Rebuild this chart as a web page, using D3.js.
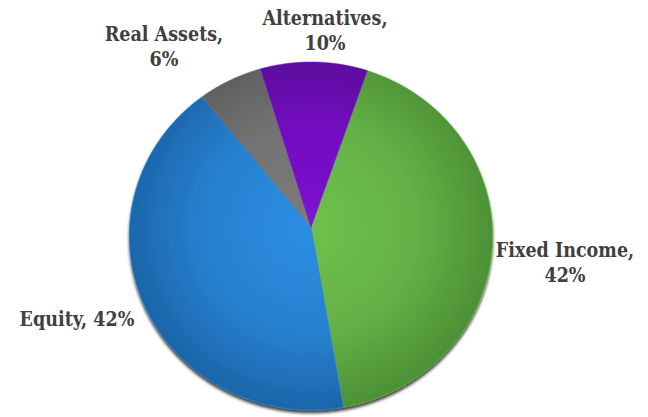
<!DOCTYPE html>
<html>
<head>
<meta charset="utf-8">
<script src="https://cdn.jsdelivr.net/npm/d3@7"></script>
<style>
  html, body { margin: 0; padding: 0; background: #fff; }
  svg { display: block; }
  .lbl { font-family: "DejaVu Serif Condensed", "DejaVu Serif", serif; font-stretch: condensed; font-weight: bold; font-size: 19.5px; fill: #404040; }
</style>
</head>
<body>
<svg id="chart" width="648" height="417"></svg>
<script>
// Portfolio allocation, clockwise from the first slice
const categories = ["Fixed Income", "Equity", "Real Assets", "Alternatives"];
const values = [42, 42, 6, 10];
const labelLines = [["Fixed Income,", "42%"], ["Equity, 42%"], ["Real Assets,", "6%"], ["Alternatives,", "10%"]];
const centerColors = ["#6fc14d", "#2b8ee2", "#7c7c7c", "#7e12d2"];
const rimColors = ["#4a8d34", "#1c62a6", "#5a5a5a", "#520a90"];

const W = 648, H = 417;
const cx = 311, cy = 227, R = 181.5;
const tilt = 17 * Math.PI / 180, dist = 1025;
const cosT = Math.cos(tilt), sinT = Math.sin(tilt);

// tilted disc: top edge recedes, bottom edge comes forward
function project(angle, r) {
  const x = r * Math.sin(angle), y = -r * Math.cos(angle);
  const f = dist / (dist - y * sinT);
  return [cx + x * f, cy + y * cosT * f];
}

const svg = d3.select("#chart");
const defs = svg.append("defs");

const shadow = defs.append("filter").attr("id", "pieShadow")
  .attr("x", "-10%").attr("y", "-10%").attr("width", "120%").attr("height", "125%");
shadow.append("feDropShadow").attr("dx", 0).attr("dy", 3).attr("stdDeviation", 1.8)
  .attr("flood-color", "#000").attr("flood-opacity", 0.75);

categories.forEach((c, i) => {
  const g = defs.append("radialGradient").attr("id", "grad" + i)
    .attr("gradientUnits", "userSpaceOnUse")
    .attr("cx", cx).attr("cy", cy).attr("r", R + 10);
  g.append("stop").attr("offset", "0%").attr("stop-color", centerColors[i]);
  g.append("stop").attr("offset", "55%").attr("stop-color", d3.interpolateRgb(centerColors[i], rimColors[i])(0.3));
  g.append("stop").attr("offset", "100%").attr("stop-color", rimColors[i]);
});

const startDeg = 19;
const pie = d3.pie().sort(null).value(d => d)
  .startAngle(startDeg * Math.PI / 180)
  .endAngle((startDeg + 360) * Math.PI / 180);
const arcs = pie(values);

const line = d3.line().curve(d3.curveLinearClosed);
function slicePath(a) {
  const pts = [[cx, cy]];
  const n = Math.max(8, Math.ceil((a.endAngle - a.startAngle) / 0.01));
  for (let k = 0; k <= n; k++) {
    const t = a.startAngle + (a.endAngle - a.startAngle) * k / n;
    pts.push(project(t, R));
  }
  return line(pts);
}

const pieG = svg.append("g").attr("filter", "url(#pieShadow)");
pieG.selectAll("path.slice").data(arcs).enter().append("path")
  .attr("class", "slice")
  .attr("d", slicePath)
  .attr("fill", (d, i) => "url(#grad" + i + ")")
  .attr("stroke", (d, i) => centerColors[i])
  .attr("stroke-width", 0.5)
  .attr("stroke-linejoin", "round");

// data labels
const labelPos = [[565, 257], [77, 326], [164, 41], [325, 25]];
const lineGap = 25;
const lab = svg.append("g");
arcs.forEach((a, i) => {
  const t = lab.append("text").attr("class", "lbl").attr("text-anchor", "middle");
  labelLines[i].forEach((s, j) => {
    t.append("tspan").attr("x", labelPos[i][0]).attr("y", labelPos[i][1] + j * lineGap).text(s);
  });
});
</script>
</body>
</html>
